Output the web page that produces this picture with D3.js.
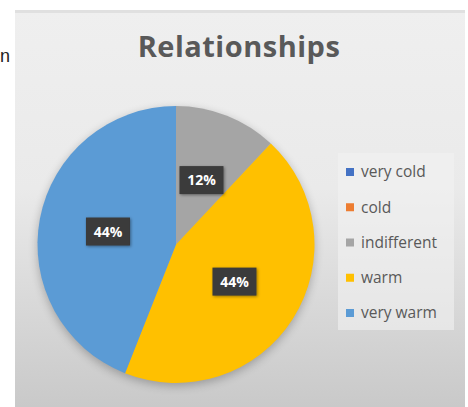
<!DOCTYPE html>
<html><head><meta charset="utf-8">
<script src="https://cdn.jsdelivr.net/npm/d3@7/dist/d3.min.js"></script>
<style>html,body{margin:0;padding:0;background:#fff;}svg{display:block;}</style>
</head><body>
<svg id="c" width="468" height="407"></svg>
<script>
const categories = ["very cold", "cold", "indifferent", "warm", "very warm"];
const values = [0, 0, 3, 11, 11];
const colors = ["#4472C4", "#ED7D31", "#A5A5A5", "#FFC000", "#5B9BD5"];
const title = "Relationships";

const svg = d3.select("#c");
const defs = svg.append("defs");
const bg = defs.append("linearGradient").attr("id","bg").attr("x1",0).attr("y1",0).attr("x2",0).attr("y2",1);
bg.append("stop").attr("offset","0%").attr("stop-color","#efefef");
bg.append("stop").attr("offset","45%").attr("stop-color","#eaeaea");
bg.append("stop").attr("offset","100%").attr("stop-color","#c9c9c9");
const sh = defs.append("filter").attr("id","sh").attr("x","-20%").attr("y","-20%").attr("width","140%").attr("height","140%");
sh.append("feGaussianBlur").attr("in","SourceAlpha").attr("stdDeviation",5);
const lsh = defs.append("filter").attr("id","lsh").attr("x","-30%").attr("y","-30%").attr("width","160%").attr("height","160%");
lsh.append("feDropShadow").attr("dx",1).attr("dy",1).attr("stdDeviation",1.5).attr("flood-color","#000").attr("flood-opacity",0.4);

// neighbouring glyph at left edge
svg.append("text").attr("x",0).attr("y",62).attr("font-family","'Liberation Sans', sans-serif")
  .attr("font-size",18).attr("fill","#222").text("n");

svg.append("rect").attr("x",15).attr("y",10).attr("width",450).attr("height",397).attr("fill","url(#bg)");
svg.append("rect").attr("x",15).attr("y",10).attr("width",450).attr("height",3).attr("fill","#e0e0e0");

svg.append("text").attr("x",239).attr("y",57).attr("text-anchor","middle")
  .attr("font-family","'Open Sans', 'Liberation Sans', sans-serif").attr("font-weight","bold")
  .attr("font-size",29).attr("letter-spacing",0.5).attr("fill","#595959").text(title);

const cx = 176, cy = 244.5, r = 138.5;
const pie = d3.pie().sort(null).value(d => d.v);
const data = pie(categories.map((c,i)=>({c, v: values[i], col: colors[i]})));
const arc = d3.arc().innerRadius(0).outerRadius(r);
const labelArc = d3.arc().innerRadius(0).outerRadius(r);
const g = svg.append("g").attr("transform",`translate(${cx},${cy})`);
g.append("circle").attr("r",r).attr("cy",3).attr("fill","#000").attr("opacity",0.25).attr("filter","url(#sh)");
g.selectAll("path.s").data(data.filter(d=>d.data.v>0)).join("path").attr("class","s")
  .attr("d",arc).attr("fill",d=>d.data.col);

const total = d3.sum(values);
const lab = g.selectAll("g.l").data(data.filter(d=>d.data.v>0)).join("g").attr("class","l")
  .attr("transform",d=>{const [x,y]=labelArc.centroid(d);return `translate(${x},${y})`;});
lab.append("rect").attr("x",-22).attr("y",-14).attr("width",44).attr("height",28)
  .attr("fill","#3a3a3a").attr("filter","url(#lsh)");
lab.append("text").attr("text-anchor","middle").attr("dy","0.36em")
  .attr("font-family","'Open Sans', 'Liberation Sans', sans-serif").attr("font-weight","bold")
  .attr("font-size",14).attr("fill","#fff")
  .text(d=>Math.round(d.data.v/total*100)+"%");

// legend
const lg = svg.append("g");
lg.append("rect").attr("x",338).attr("y",153).attr("width",116).attr("height",177).attr("fill","#f1f1f1").attr("opacity",0.6);
const ly = d3.scalePoint().domain(categories).range([172, 313]);
const items = lg.selectAll("g.i").data(categories).join("g").attr("class","i")
  .attr("transform",d=>`translate(346,${ly(d)})`);
items.append("rect").attr("x",0).attr("y",-4).attr("width",8).attr("height",8).attr("fill",(d,i)=>colors[i]);
items.append("text").attr("x",15).attr("dy","0.35em")
  .attr("font-family","'Open Sans', 'Liberation Sans', sans-serif")
  .attr("font-size",15.5).attr("fill","#595959").text(d=>d);
</script>
</body></html>
